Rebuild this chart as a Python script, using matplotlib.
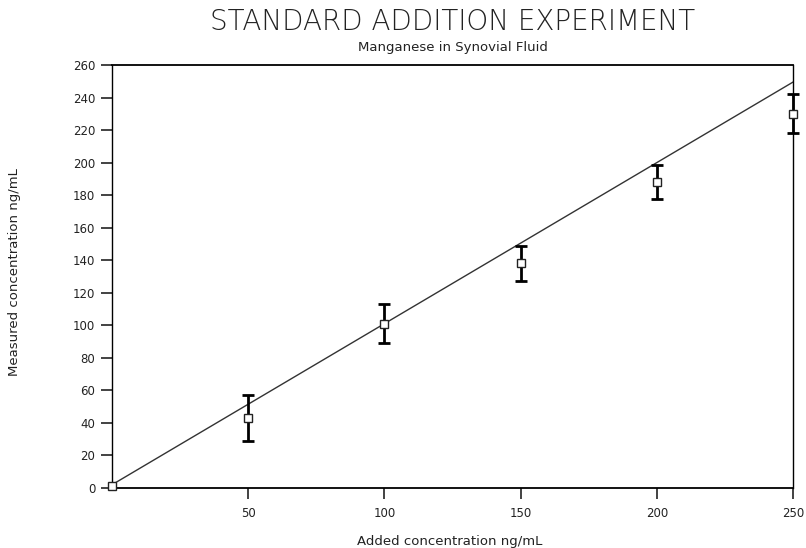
import numpy as np
import matplotlib
matplotlib.use('Agg')
import matplotlib.pyplot as plt

# standard addition data, ng/mL
added = [0, 50, 100, 150, 200, 250]
measured = [1, 43, 101, 138, 188, 230]
err = [0, 14, 12, 10.5, 10.5, 12]

# regression line end points
fit_x = [0, 250]
fit_y = [2, 249.5]

xticks = [50, 100, 150, 200, 250]
yticks = list(range(0, 261, 20))

plt.rcParams['font.family'] = ['DejaVu Sans']

fig = plt.figure(figsize=(8.06, 5.48), dpi=100)
ax = fig.add_axes([112 / 806, 1 - 488 / 548, (793 - 112) / 806, (488 - 65) / 548])

ax.plot(fit_x, fit_y, color='#333333', lw=1.0, zorder=2, clip_on=False)
ax.errorbar(added[1:], measured[1:], yerr=err[1:], fmt='none',
            ecolor='black', elinewidth=2, capsize=4, capthick=2, zorder=3,
            clip_on=False)
ax.plot(added, measured, ls='none', marker='s', ms=6, mfc='white',
        mec='#222222', mew=1.0, zorder=4, clip_on=False)

ax.set_xlim(0, 250)
ax.set_ylim(0, 260)
ax.set_xticks(xticks)
ax.set_yticks(yticks)
ax.tick_params(axis='both', direction='out', length=8, width=1.2,
               labelsize=8.5, colors='#222222')
ax.tick_params(axis='y', pad=4)
ax.tick_params(axis='x', pad=6)
for side in ['left', 'right']:
    ax.spines[side].set_linewidth(1.0)
    ax.spines[side].set_linestyle((0, (2, 1)))
ax.spines['top'].set_linewidth(1.3)
ax.spines['bottom'].set_linewidth(1.3)

fig.text(0.562, 1 - 22 / 548, 'STANDARD ADDITION EXPERIMENT', ha='center',
         va='center', fontsize=20, fontweight='light', color='#222222')
fig.text(0.562, 1 - 47 / 548, 'Manganese in Synovial Fluid', ha='center',
         va='center', fontsize=9.5, color='#222222')
fig.text(0.558, 1 - 541 / 548, 'Added concentration ng/mL', ha='center',
         va='center', fontsize=9.5, color='#222222')
fig.text(15 / 806, 1 - 272 / 548, 'Measured concentration ng/mL', ha='center',
         va='center', rotation=90, fontsize=9.5, color='#222222')

fig.savefig('out.png', dpi=100, facecolor='white')
